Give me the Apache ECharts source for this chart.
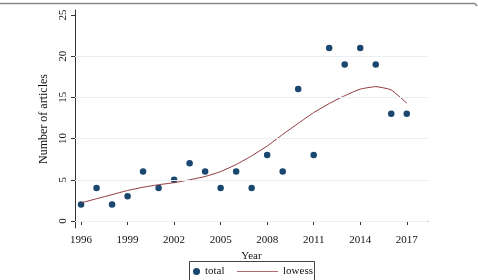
<!DOCTYPE html>
<html>
<head>
<meta charset="utf-8">
<script src="https://cdn.jsdelivr.net/npm/echarts@6/dist/echarts.min.js"></script>
<style>html,body{margin:0;padding:0;background:#fff}#c{width:478px;height:280px}</style>
</head>
<body>
<div id="c"></div>
<script>
var years = [1996,1997,1998,1999,2000,2001,2002,2003,2004,2005,2006,2007,2008,2009,2010,2011,2012,2013,2014,2015,2016,2017];
var total = [2,4,2,3,6,4,5,7,6,4,6,4,8,6,16,8,21,19,21,19,13,13];
var lowess = [2.2,2.7,3.2,3.7,4.1,4.4,4.65,5.0,5.4,6.0,6.85,7.9,9.1,10.5,11.85,13.15,14.25,15.2,16.0,16.3,15.9,14.3];
var xTicks = [1996,1999,2002,2005,2008,2011,2014,2017];
var yTicks = [0,5,10,15,20,25];
var gridVals = [0,5,10,15,20];

var font = '"Liberation Serif", "DejaVu Serif", serif';
var chart = echarts.init(document.getElementById('c'), null, {renderer:'canvas'});
chart.setOption({
  animation:false,
  backgroundColor:'#fff',
  textStyle:{fontFamily:font},
  grid:{left:75,right:50,top:10,bottom:52,containLabel:false},
  xAxis:{
    type:'value', min:1995.61, max:2018.37,
    axisLine:{show:true,lineStyle:{color:'#333',width:1}},
    axisTick:{show:true,length:4,lineStyle:{color:'#333'},customValues:xTicks},
    axisLabel:{customValues:xTicks,color:'#111',fontSize:11,fontFamily:font,margin:7,
      formatter:function(v){return String(v);}},
    splitLine:{show:false},
    name:'Year', nameLocation:'middle', nameGap:17,
    nameTextStyle:{color:'#111',fontSize:11,fontFamily:font}
  },
  yAxis:{
    type:'value', min:-0.85, max:25.6,
    axisLine:{show:true,lineStyle:{color:'#333',width:1}},
    axisTick:{show:true,length:4,lineStyle:{color:'#333'},customValues:yTicks},
    axisLabel:{customValues:yTicks,rotate:90,color:'#111',fontSize:11,fontFamily:font,margin:6,
      formatter:function(v){return String(v);}},
    splitLine:{show:false},
    name:'Number of articles', nameLocation:'middle', nameGap:22,
    nameTextStyle:{color:'#111',fontSize:12,fontFamily:font}
  },
  legend:[
    {data:[{name:'total',icon:'circle'}],left:191,top:264,itemWidth:7,itemHeight:7,itemGap:4,
     textStyle:{fontFamily:font,fontSize:11,color:'#111'},padding:[2,2]},
    {data:[{name:'lowess',icon:'rect'}],left:235,top:264,itemWidth:41,itemHeight:1.2,itemGap:4,
     itemStyle:{color:'#b06a70'},
     textStyle:{fontFamily:font,fontSize:11,color:'#111'},padding:[2,2]}
  ],
  graphic:[
    {type:'line',shape:{x1:0,y1:3.5,x2:475,y2:3.5},style:{stroke:'#888',lineWidth:1.5},silent:true},
    {type:'line',shape:{x1:475,y1:3.5,x2:477,y2:6},style:{stroke:'#888',lineWidth:1.5},silent:true},
    {type:'rect',shape:{x:189.5,y:261.5,width:125,height:25},style:{fill:null,stroke:'#444',lineWidth:1},silent:true}
  ],
  series:[
    {name:'grid',type:'line',data:[],silent:true,
     markLine:{symbol:'none',silent:true,label:{show:false},
       lineStyle:{color:'#eaf0f2',width:1,type:'solid'},
       data:gridVals.map(function(v){return {yAxis:v};})}},
    {name:'total',type:'scatter',symbol:'circle',symbolSize:6.5,
     itemStyle:{color:'#1a476f',opacity:1},
     data:years.map(function(y,i){return [y,total[i]];})},
    {name:'lowess',type:'line',symbol:'none',showSymbol:false,smooth:0.15,
     lineStyle:{color:'#90353b',width:1},itemStyle:{color:'#90353b'},
     data:years.map(function(y,i){return [y,lowess[i]];})}
  ]
});
</script>
</body>
</html>
